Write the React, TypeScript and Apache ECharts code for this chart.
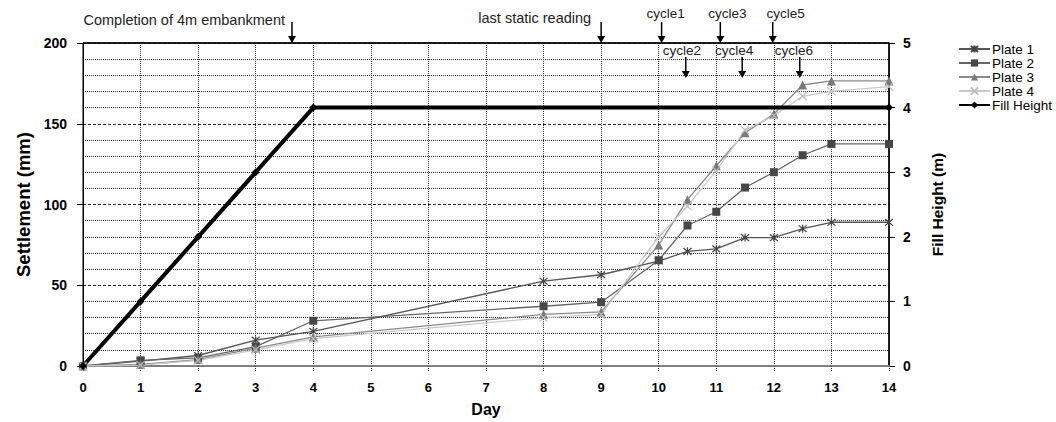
import React, { useEffect, useRef } from "react";
import * as echarts from "echarts";

const days = [0, 1, 2, 3, 4, 8, 9, 10, 10.5, 11, 11.5, 12, 12.5, 13, 14];
const plate1 = [0, 3, 6.5, 16, 21.5, 52.5, 56.5, 65, 71, 72.5, 79.5, 79.5, 85, 89, 89];
const plate2 = [0, 3.5, 5, 12, 28, 37, 39.5, 65.5, 87, 95.5, 110.5, 120, 130.5, 137.5, 137.5];
const plate3 = [0, 1, 4, 11, 18, 32, 33.5, 75, 103, 124, 144.5, 156, 174, 176.5, 176.5];
const plate4 = [0, 0.5, 3.5, 10, 17, 30, 32, 80, 99, 121, 146, 155, 167, 170, 173];
const fillDays = [0, 1, 2, 3, 4, 14];
const fillHeight = [0, 1, 2, 3, 4, 4];

const seriesNames = ["Plate 1", "Plate 2", "Plate 3", "Plate 4", "Fill Height"];
const xTicks = [0, 14, 1];
const leftTicks = [0, 200, 50];
const rightTicks = [0, 5, 1];

const annTexts = ["Completion of 4m embankment", "last static reading", "cycle1", "cycle2", "cycle3", "cycle4", "cycle5", "cycle6"];
const annDays = [3.63, 9, 10.05, 10.47, 11.07, 11.45, 11.98, 12.45];
const annRows = [0, 0, 0, 1, 0, 1, 0, 1];
// layout: text offset from arrow (px), text y, alignment, font size
const annLayout = [
  { dx: -7, dy: 20, align: "right", fs: 14.5 },
  { dx: -10, dy: 18, align: "right", fs: 14.5 },
  { dx: 4, dy: 13, align: "center", fs: 13.5 },
  { dx: -4, dy: 50, align: "center", fs: 13.5 },
  { dx: 7, dy: 13, align: "center", fs: 13.5 },
  { dx: -8, dy: 50, align: "center", fs: 13.5 },
  { dx: 13, dy: 13, align: "center", fs: 13.5 },
  { dx: -6, dy: 50, align: "center", fs: 13.5 },
];

const FONT = "'Liberation Sans', Arial, sans-serif";
const ASTER = "path://M0,0L10,10M10,0L0,10M5,-1L5,11";
const XMARK = "path://M0,0L10,10M10,0L0,10";

export default function App() {
  const ref = useRef<HTMLDivElement>(null);
  useEffect(() => {
    document.body.style.margin = "0";
    const chart = echarts.init(ref.current!, null, { renderer: "svg" });
    const pair = (xs: number[], ys: number[]) => xs.map((x, i) => [x, ys[i]]);
    const option: any = {
      animation: false,
      backgroundColor: "#fff",
      textStyle: { fontFamily: FONT },
      grid: { left: 83, right: 167, top: 43, bottom: 55, show: true, borderColor: "#000", borderWidth: 1, backgroundColor: "transparent" },
      legend: {
        orient: "vertical",
        left: 953,
        top: 37,
        itemWidth: 31,
        itemHeight: 9,
        itemGap: 0,
        data: seriesNames,
        textStyle: { fontFamily: FONT, fontSize: 13.5, color: "#000", lineHeight: 14, padding: [0, 0, 0, -3] },
      },
      xAxis: {
        type: "value",
        min: xTicks[0],
        max: xTicks[1],
        interval: xTicks[2],
        name: "Day",
        nameLocation: "middle",
        nameGap: 35,
        nameTextStyle: { fontFamily: FONT, fontSize: 16, fontWeight: "bold", color: "#000" },
        axisLine: { lineStyle: { color: "#808080", width: 2 } },
        axisTick: { show: true, length: 5, lineStyle: { color: "#333", type: [1, 1] } },
        axisLabel: { margin: 15, fontFamily: FONT, fontSize: 13, fontWeight: "bold", color: "#000" },
        splitLine: { show: true, lineStyle: { color: "#333", width: 1, type: [1, 1] } },
      },
      yAxis: [
        {
          type: "value",
          min: leftTicks[0],
          max: leftTicks[1],
          interval: leftTicks[2],
          name: "Settlement (mm)",
          nameLocation: "middle",
          nameGap: 49,
          nameTextStyle: { fontFamily: FONT, fontSize: 18.5, fontWeight: "bold", color: "#000" },
          axisLine: { show: true, lineStyle: { color: "#000", width: 1 } },
          axisTick: { show: true, length: 6, lineStyle: { color: "#000" } },
          axisLabel: { margin: 16, fontFamily: FONT, fontSize: 14, fontWeight: "bold", color: "#000" },
          splitLine: { show: true, lineStyle: { color: "#222", width: 1, type: [3, 2] } },
          minorTick: { show: false, splitNumber: 5 },
          minorSplitLine: { show: true, lineStyle: { color: "#333", width: 1, type: [1, 1] } },
        },
        {
          type: "value",
          min: rightTicks[0],
          max: rightTicks[1],
          interval: rightTicks[2],
          position: "right",
          name: "Fill Height (m)",
          nameLocation: "middle",
          nameGap: 40,
          nameRotate: 90,
          nameTextStyle: { fontFamily: FONT, fontSize: 15.5, fontWeight: "bold", color: "#000" },
          axisLine: { show: true, lineStyle: { color: "#000", width: 1.5 } },
          axisTick: { show: true, length: 6, lineStyle: { color: "#000" } },
          axisLabel: { margin: 14, fontFamily: FONT, fontSize: 14, fontWeight: "bold", color: "#000" },
          splitLine: { show: false },
        },
      ],
      series: [
        {
          name: seriesNames[0],
          type: "line",
          data: pair(days, plate1),
          symbol: ASTER,
          symbolSize: 8,
          lineStyle: { color: "#555", width: 1.3 },
          itemStyle: { color: "#444", borderColor: "#444", borderWidth: 1.2 },
        },
        {
          name: seriesNames[1],
          type: "line",
          data: pair(days, plate2),
          symbol: "rect",
          symbolSize: 8,
          lineStyle: { color: "#666", width: 1.3 },
          itemStyle: { color: "#474747", borderWidth: 0 },
        },
        {
          name: seriesNames[2],
          type: "line",
          data: pair(days, plate3),
          symbol: "triangle",
          symbolSize: 9,
          lineStyle: { color: "#8a8a8a", width: 1.3 },
          itemStyle: { color: "#7a7a7a", borderWidth: 0 },
        },
        {
          name: seriesNames[3],
          type: "line",
          data: pair(days, plate4),
          symbol: XMARK,
          symbolSize: 8,
          lineStyle: { color: "#c8c8c8", width: 1.3 },
          itemStyle: { color: "#bdbdbd", borderColor: "#bdbdbd", borderWidth: 1.2 },
        },
        {
          name: seriesNames[4],
          type: "line",
          yAxisIndex: 1,
          data: pair(fillDays, fillHeight),
          symbol: "diamond",
          symbolSize: 8,
          lineStyle: { color: "#000", width: 4 },
          itemStyle: { color: "#000", borderWidth: 0 },
        },
      ],
    };
    chart.setOption(option);

    const graphics: any[] = [];
    const topY = chart.convertToPixel({ yAxisIndex: 0 }, leftTicks[1]) as number;
    const x0 = chart.convertToPixel({ xAxisIndex: 0 }, xTicks[0]) as number;
    const x1 = chart.convertToPixel({ xAxisIndex: 0 }, xTicks[1]) as number;
    graphics.push({ type: "line", z: 100, shape: { x1: x0, y1: topY, x2: x1, y2: topY }, style: { stroke: "#000", lineWidth: 1.5 } });
    annTexts.forEach((t, i) => {
      const x = chart.convertToPixel({ xAxisIndex: 0 }, annDays[i]) as number;
      const lay = annLayout[i];
      const y1 = annRows[i] === 0 ? topY - 21 : topY + 14;
      const y2 = annRows[i] === 0 ? topY : topY + 35;
      graphics.push({
        type: "text",
        x: x + lay.dx,
        y: lay.dy,
        style: { text: t, fontFamily: FONT, fontSize: lay.fs, fill: "#222", align: lay.align, verticalAlign: "middle" },
      });
      graphics.push({ type: "line", z: 101, shape: { x1: x, y1, x2: x, y2: y2 - 5 }, style: { stroke: "#000", lineWidth: 1.5 } });
      graphics.push({ type: "polygon", z: 101, shape: { points: [[x - 4, y2 - 7], [x + 4, y2 - 7], [x, y2]] }, style: { fill: "#000" } });
    });
    chart.setOption({ graphic: graphics });

    return () => chart.dispose();
  }, []);
  return <div ref={ref} style={{ width: 1056, height: 422 }} />;
}
